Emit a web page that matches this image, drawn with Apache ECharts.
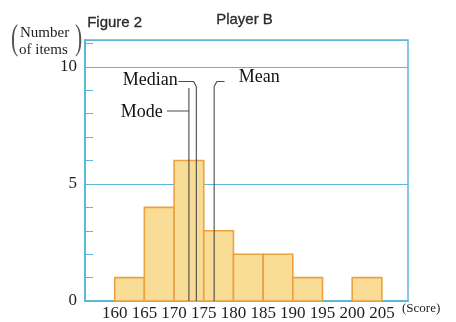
<!DOCTYPE html>
<html>
<head>
<meta charset="utf-8">
<script src="https://cdn.jsdelivr.net/npm/echarts@6/dist/echarts.min.js"></script>
<style>
  html, body { margin: 0; padding: 0; background: #fff; }
  #chart { width: 456px; height: 322px; }
</style>
</head>
<body>
<div id="chart"></div>
<script>
// Score classes (lower bound of each 5-point class) and the number of items in each
const classStarts = [160, 165, 170, 175, 180, 185, 190, 195, 200];
const classWidth = 5;
const counts = [1, 4, 6, 3, 2, 2, 1, 0, 1];

// Representative values marked on the histogram
const modeValue = 172.5;
const medianValue = 173.75;
const meanValue = 176.75;

// Axis tick labels
const xTicks = [160, 165, 170, 175, 180, 185, 190, 195, 200, 205];
const yTicks = [0, 5, 10];

const blue = '#5cb6d8';
const ink = '#1e1e1e';
const markInk = '#4a4a4a';
const serif = '"Liberation Serif", "DejaVu Serif", serif';
const sans = '"Liberation Sans", "DejaVu Sans", sans-serif';

const bins = classStarts
  .map((s, i) => [s, s + classWidth, counts[i]])
  .filter(b => b[2] > 0);

function pointerLine(points) {
  return {
    type: 'line',
    data: points,
    symbol: 'none',
    silent: true,
    animation: false,
    lineStyle: { color: markInk, width: 1.1 },
    z: 5
  };
}

function markLabel(x, y, text, pos) {
  return {
    type: 'scatter',
    data: [[x, y, text]],
    symbolSize: 0,
    silent: true,
    animation: false,
    itemStyle: { opacity: 1 },
    label: {
      show: true,
      position: pos,
      distance: 0,
      formatter: p => p.value[2],
      fontFamily: serif,
      fontSize: 18,
      color: '#111',
      opacity: 1
    },
    z: 6
  };
}

const chart = echarts.init(document.getElementById('chart'));
chart.setOption({
  animation: false,
  backgroundColor: '#fff',
  grid: {
    left: 85, right: 48, top: 40, bottom: 21,
    show: true,
    borderColor: blue,
    borderWidth: 1.5,
    backgroundColor: 'transparent'
  },
  xAxis: {
    type: 'value',
    min: 155,
    max: 209.4,
    interval: 5,
    axisLine: { show: true, onZero: false, lineStyle: { color: blue, width: 2 } },
    axisTick: { show: false },
    splitLine: { show: false },
    axisLabel: {
      showMinLabel: false,
      showMaxLabel: false,
      margin: 4,
      fontFamily: serif,
      fontSize: 17,
      color: ink,
      formatter: v => (xTicks.indexOf(v) >= 0 ? String(v) : '')
    }
  },
  yAxis: {
    type: 'value',
    min: 0,
    max: 11.15,
    interval: 5,
    axisLine: { show: true, lineStyle: { color: blue, width: 2 } },
    axisTick: { show: false, inside: true },
    minorTick: { show: true, splitNumber: 5, length: 8, lineStyle: { color: blue, width: 1 } },
    splitLine: { show: true, lineStyle: { color: blue, width: 1.2 } },
    axisLabel: {
      margin: 8,
      fontFamily: serif,
      fontSize: 17,
      color: ink,
      formatter: v => (yTicks.indexOf(v) >= 0 ? String(v) : '')
    }
  },
  series: [
    {
      type: 'custom',
      data: bins,
      encode: { x: [0, 1], y: 2 },
      renderItem: function (params, api) {
        const topLeft = api.coord([api.value(0), api.value(2)]);
        const bottomRight = api.coord([api.value(1), 0]);
        return {
          type: 'rect',
          shape: {
            x: topLeft[0],
            y: topLeft[1],
            width: bottomRight[0] - topLeft[0],
            height: bottomRight[1] - topLeft[1]
          },
          style: { fill: '#f9dc96', stroke: '#eba23f', lineWidth: 1.6 }
        };
      },
      z: 3
    },
    // Median pointer
    pointerLine([[170.75, 9.38], [173.3, 9.38], [medianValue, 9.15], [medianValue, 0]]),
    markLabel(170.6, 9.45, 'Median', 'left'),
    // Mode pointer
    pointerLine([[168.8, 8.12], [modeValue, 8.12]]),
    pointerLine([[modeValue, 9.1], [modeValue, 0]]),
    markLabel(168.1, 8.08, 'Mode', 'left'),
    // Mean pointer
    pointerLine([[178.5, 9.38], [177.2, 9.38], [meanValue, 9.15], [meanValue, 0]]),
    markLabel(180.9, 9.55, 'Mean', 'right')
  ],
  graphic: [
    { type: 'text', left: 87, top: 15, style: { text: 'Figure 2', fontFamily: sans, fontSize: 15, fill: '#2a2a2a', stroke: '#2a2a2a', lineWidth: 0.3 } },
    { type: 'text', left: 216, top: 12, style: { text: 'Player B', fontFamily: sans, fontSize: 15, fill: '#2a2a2a', stroke: '#2a2a2a', lineWidth: 0.3 } },
    { type: 'text', left: 11, top: 22, scaleX: 0.6, style: { text: '(', fontFamily: serif, fontSize: 36, fill: '#555' } },
    { type: 'text', left: 75, top: 22, scaleX: 0.6, style: { text: ')', fontFamily: serif, fontSize: 36, fill: '#555' } },
    { type: 'text', left: 20, top: 26, style: { text: 'Number', fontFamily: serif, fontSize: 15, fill: ink } },
    { type: 'text', left: 19, top: 43, style: { text: 'of items', fontFamily: serif, fontSize: 15, fill: ink } },
    { type: 'text', left: 402, top: 302, style: { text: '(Score)', fontFamily: serif, fontSize: 13, fill: ink } }
  ]
});
</script>
</body>
</html>
